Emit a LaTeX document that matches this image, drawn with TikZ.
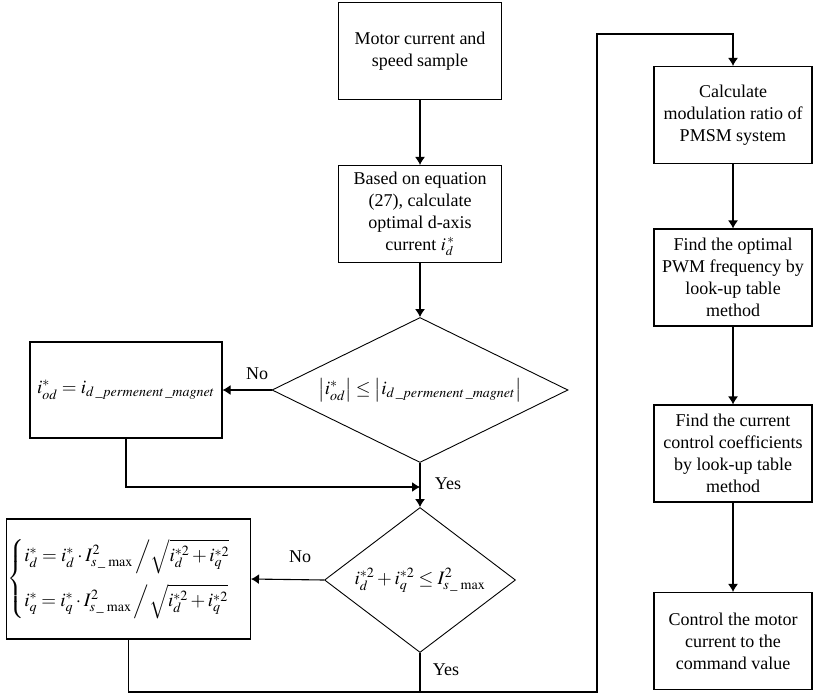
\documentclass[tikz,border=0pt]{standalone}
\usepackage{amsmath,amsfonts}
\usepackage{mathptmx}
\usepackage{fontspec}
\setmainfont{Liberation Serif}
\usetikzlibrary{arrows,arrows.meta,shapes.geometric}

\begin{document}
\begin{tikzpicture}[
  x=1pt, y=-1pt,
  line width=1.1pt,
  font=\fontsize{18}{22}\selectfont,
  snode/.style={draw,rectangle,align=center,minimum width=163pt,minimum height=97pt,inner sep=3pt},
  dnode/.style={draw,diamond,inner sep=0pt,line width=0.9pt},
  mfont/.style={font=\fontsize{19}{23}\selectfont},
  lnode/.style={inner sep=0pt}
]
  \useasboundingbox (0,0) rectangle (813,695);

  % main column
  \node[snode] (m1) at (420,51) {Motor current and\\speed sample};
  \node[snode] (m2) at (420,214) {Based on equation\\(27), calculate\\optimal d-axis\\current $i_d^{\,*}$};
  \node[dnode,mfont,minimum width=296pt,minimum height=145pt,aspect=2.04] (c1) at (420,390) {$\left|i^*_{od}\right| \le \left|i_{d\,\_permenent\,\_magnet}\right|$};
  \node[dnode,mfont,minimum width=191pt,minimum height=145pt,aspect=1.32] (c2) at (420,580) {$i_d^{*2}+i_q^{*2}\le I^2_{s\,\_\,\max}$};

  % correction boxes
  \node[snode,mfont,minimum width=192pt,minimum height=96pt] (k1) at (126,390) {$i^*_{od}=i_{d\,\_permenent\,\_magnet}$};
  \node[snode,mfont,minimum width=237pt,minimum height=120pt,inner sep=1pt] (k2) at (128.5,579) {$\begin{cases}
    i_d^*=i_d^*\cdot I^2_{s\,\_\,\max}\,\Big/\sqrt{i_d^{*2}+i_q^{*2}}\\[14pt]
    i_q^*=i_q^*\cdot I^2_{s\,\_\,\max}\,\Big/\sqrt{i_d^{*2}+i_q^{*2}}
  \end{cases}$};

  % right column
  \node[snode,minimum width=158pt] (r1) at (733,115) {Calculate\\modulation ratio of\\PMSM system};
  \node[snode,minimum width=158pt] (r2) at (733,277.5) {Find the optimal\\PWM frequency by\\look-up table\\method};
  \node[snode,minimum width=158pt] (r3) at (733,453.5) {Find the current\\control coefficients\\by look-up table\\method};
  \node[snode,minimum width=158pt] (r4) at (733,641) {Control the motor\\current to the\\command value};

  % labels
  \node[lnode] (n1) at (257,374) {No};
  \node[lnode] (n2) at (300,557) {No};
  \node[lnode] (y1) at (448,484) {Yes};
  \node[lnode] (y2) at (446,670) {Yes};

  % corners
  \coordinate (j1) at (420,487);
  \coordinate (b1) at (597,692);
  \coordinate (t1) at (597,34);
  \coordinate (t2) at (733,34);

  % flow edges
  \draw[-{Latex[length=8pt,width=10pt]}] (m1) -- (m2);
  \draw[-{Latex[length=8pt,width=10pt]}] (m2) -- (c1);
  \draw[-{Latex[length=8pt,width=10pt]}] (c1.west) -- (k1.east);
  \draw[-{Latex[length=8pt,width=10pt]}] (k1.south) |- (j1);
  \draw[-{Latex[length=8pt,width=10pt]}] (c1.south) -- (c2.north);
  \draw[-{Latex[length=8pt,width=10pt]}] (c2.west) -- (k2.east);
  \draw (k2.south) |- (c2.south |- b1);
  \draw[-{Latex[length=8pt,width=10pt]}] (c2.south) |- (b1) -- (t1) -- (t2) -- (r1.north);
  \draw[-{Latex[length=8pt,width=10pt]}] (r1) -- (r2);
  \draw[-{Latex[length=8pt,width=10pt]}] (r2) -- (r3);
  \draw[-{Latex[length=8pt,width=10pt]}] (r3) -- (r4);

\end{tikzpicture}
\end{document}
